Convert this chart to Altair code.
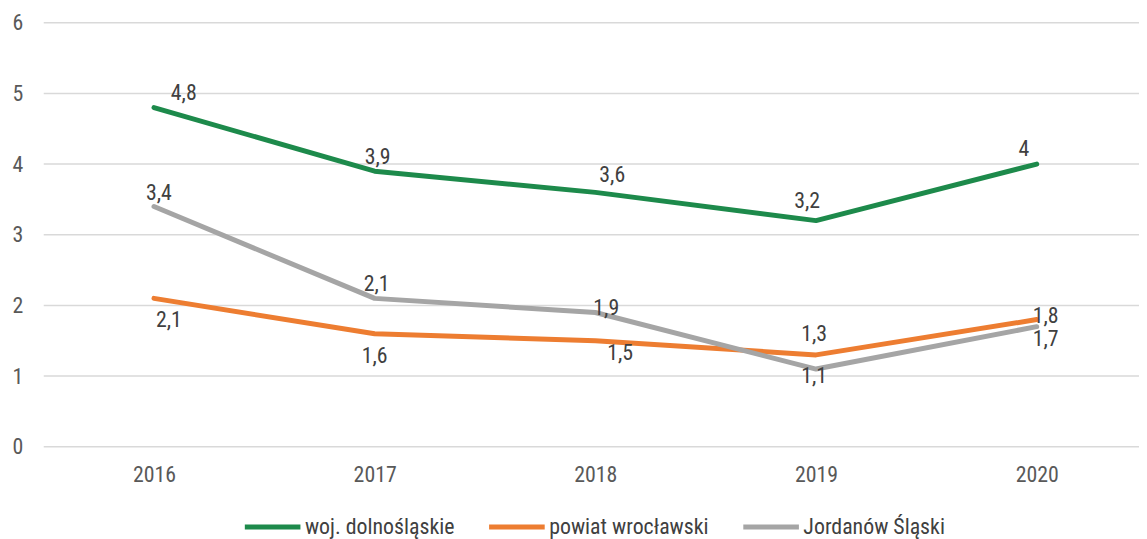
import altair as alt
import pandas as pd

years = ["2016", "2017", "2018", "2019", "2020"]
series = ["woj. dolnośląskie", "powiat wrocławski", "Jordanów Śląski"]
woj = [4.8, 3.9, 3.6, 3.2, 4.0]
powiat = [2.1, 1.6, 1.5, 1.3, 1.8]
jordanow = [3.4, 2.1, 1.9, 1.1, 1.7]
y_ticks = [0, 1, 2, 3, 4, 5, 6]
colors = ["#1D8A4B", "#ED7D31", "#A5A5A5"]

# label nudges (dx, dy) in pixels for each data label (styling only)
label_nudge = {
    "woj. dolnośląskie": [(30, -15), (3, -14), (17, -17), (-9, -20), (-13, -15)],
    "powiat wrocławski": [(15, 22), (0, 23), (25, 12), (-2, -21), (9, -4)],
    "Jordanów Śląski": [(5, -14), (2, -14), (11, -4), (-2, 7), (9, 12)],
}

FONT = "Liberation Sans Narrow, Roboto Condensed, DejaVu Sans Condensed, sans-serif"
FS = 22
W, H = 1103, 427

rows = []
for s, vals in zip(series, [woj, powiat, jordanow]):
    for y, v in zip(years, vals):
        lab = (f"{v:g}").replace(".", ",")
        rows.append({"year": y, "series": s, "value": v, "label": lab})
df = pd.DataFrame(rows)

xscale = alt.Scale(type="point", range=[111, 1000], padding=0)
yscale = alt.Scale(domain=[0, 6], nice=False, zero=True)
xaxis = alt.Axis(title=None, labelAngle=0, ticks=False, domain=False, grid=False,
                 labelPadding=18, labelFontSize=FS, labelFont=FONT, labelColor="#595959")
yaxis = alt.Axis(title=None, values=y_ticks, format="d", ticks=False, domain=False,
                 grid=False, labelPadding=21, labelFontSize=FS, labelFont=FONT,
                 labelColor="#595959")

grid = alt.Chart(pd.DataFrame({"tick": y_ticks})).mark_rule(
    color="#D9D9D9", strokeWidth=1.5
).encode(
    y=alt.Y("tick:Q", scale=yscale, axis=yaxis),
    x=alt.value(0),
    x2=alt.value(W),
)

base = alt.Chart(df)

lines = base.mark_line(strokeWidth=5, strokeCap="round", strokeJoin="round").encode(
    x=alt.X("year:O", scale=xscale, axis=xaxis),
    y=alt.Y("value:Q", scale=yscale, axis=yaxis),
    color=alt.Color(
        "series:N",
        scale=alt.Scale(domain=series, range=colors),
        sort=series,
        legend=alt.Legend(
            title=None, orient="none", direction="horizontal",
            legendX=200, legendY=477,
            symbolType="stroke", symbolSize=3136, symbolStrokeWidth=5,
            labelFont=FONT, labelFontSize=FS, labelColor="#404040",
            labelOffset=2, columnPadding=24, labelLimit=400,
        ),
    ),
)

layers = [grid, lines]
for s in series:
    for i, y in enumerate(years):
        dx, dy = label_nudge[s][i]
        t = base.transform_filter(
            (alt.datum.series == s) & (alt.datum.year == y)
        ).mark_text(
            dx=dx, dy=dy, font=FONT, fontSize=FS, color="#404040", baseline="middle", align="center"
        ).encode(
            x=alt.X("year:O", scale=xscale, axis=xaxis),
            y=alt.Y("value:Q", scale=yscale, axis=yaxis),
            text="label:N",
        )
        layers.append(t)

chart = alt.layer(*layers).properties(
    width=W,
    height=H,
    autosize=alt.AutoSizeParams(type="none"),
    padding={"left": 36, "top": 13, "right": 0, "bottom": 91},
).configure(
    background="white",
    view=alt.ViewConfig(strokeWidth=0, strokeOpacity=0),
)

chart.save("out.html", embed_options={"renderer": "svg", "actions": False})
